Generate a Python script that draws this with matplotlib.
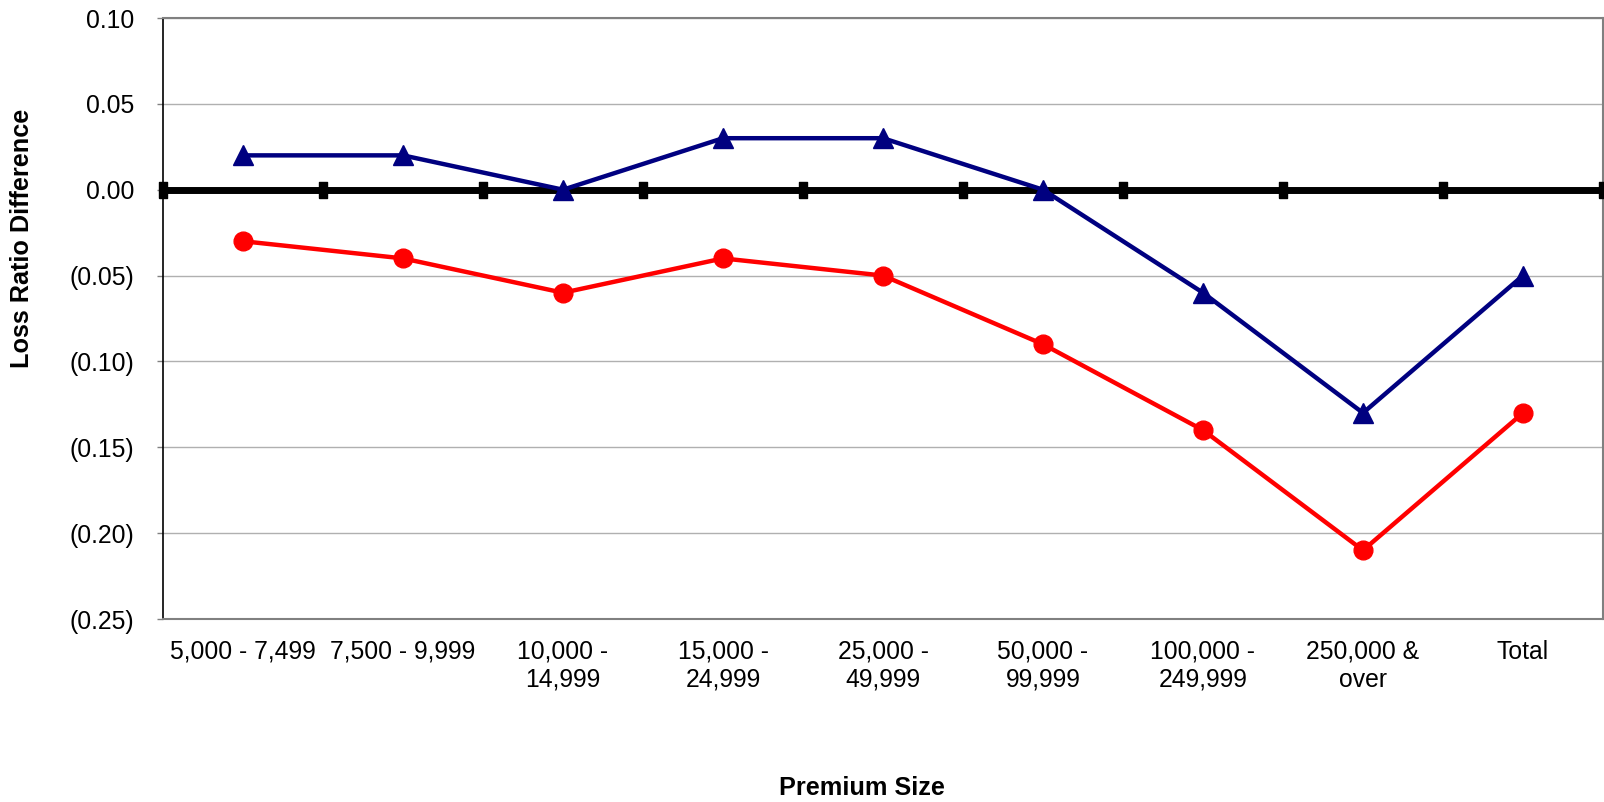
import matplotlib
matplotlib.use("Agg")
import matplotlib.pyplot as plt
import numpy as np

categories = ["5,000 - 7,499", "7,500 - 9,999", "10,000 -\n14,999", "15,000 -\n24,999",
              "25,000 -\n49,999", "50,000 -\n99,999", "100,000 -\n249,999", "250,000 &\nover", "Total"]
blue_values = [0.02, 0.02, 0.00, 0.03, 0.03, 0.00, -0.06, -0.13, -0.05]
red_values = [-0.03, -0.04, -0.06, -0.04, -0.05, -0.09, -0.14, -0.21, -0.13]
zero_values = [0.0] * 10
y_ticks = [0.10, 0.05, 0.00, -0.05, -0.10, -0.15, -0.20, -0.25]

plt.rcParams['font.family'] = ['Liberation Sans', 'DejaVu Sans']

fig = plt.figure(figsize=(16.04, 8.02), dpi=100)
ax = fig.add_axes([163/1604, 1 - 619/802, (1603-163)/1604, (619-18)/802])

x = np.arange(len(categories))
xb = np.arange(len(zero_values)) - 0.5

rect = [(-0.5, -1), (0.5, -1), (0.5, 1), (-0.5, 1), (-0.5, -1)]
ax.plot(xb, zero_values, color='black', lw=5, marker=rect, markersize=11.5,
        clip_on=False, zorder=3)
ax.plot(x, blue_values, color='#000080', lw=3.2, marker='^', markersize=14.5, zorder=4)
ax.plot(x, red_values, color='#FF0000', lw=3.2, marker='o', markersize=13.5, zorder=4)

ax.set_xlim(-0.5, 8.5)
ax.set_ylim(-0.25, 0.10)
ax.set_yticks(y_ticks)

def fmt(v):
    if abs(v) < 1e-9:
        return "0.00"
    return f"{v:.2f}" if v > 0 else f"({abs(v):.2f})"

ax.set_yticklabels([fmt(v) for v in y_ticks], fontsize=17.8)
ax.set_xticks(x)
ax.set_xticklabels(categories, fontsize=17.8, linespacing=1.2)
ax.tick_params(axis='x', length=0, pad=15)
ax.tick_params(axis='y', length=4.3, width=1, color='#808080', pad=16.5)

ax.grid(axis='y', color='#b0b0b0', lw=1)
ax.set_axisbelow(True)
for s in ['top', 'right', 'bottom']:
    ax.spines[s].set_color('#808080')
    ax.spines[s].set_linewidth(1.5)
ax.spines['left'].set_color('black')
ax.spines['left'].set_linewidth(1.2)

fig.text(22/1604, 1 - 238/802, "Loss Ratio Difference", rotation=90, fontsize=18.2,
         fontweight='bold', ha='center', va='center')
fig.text(862/1604, 1 - 788/802, "Premium Size", fontsize=18.2,
         fontweight='bold', ha='center', va='center')

fig.savefig("out.png", dpi=100, facecolor='white')
